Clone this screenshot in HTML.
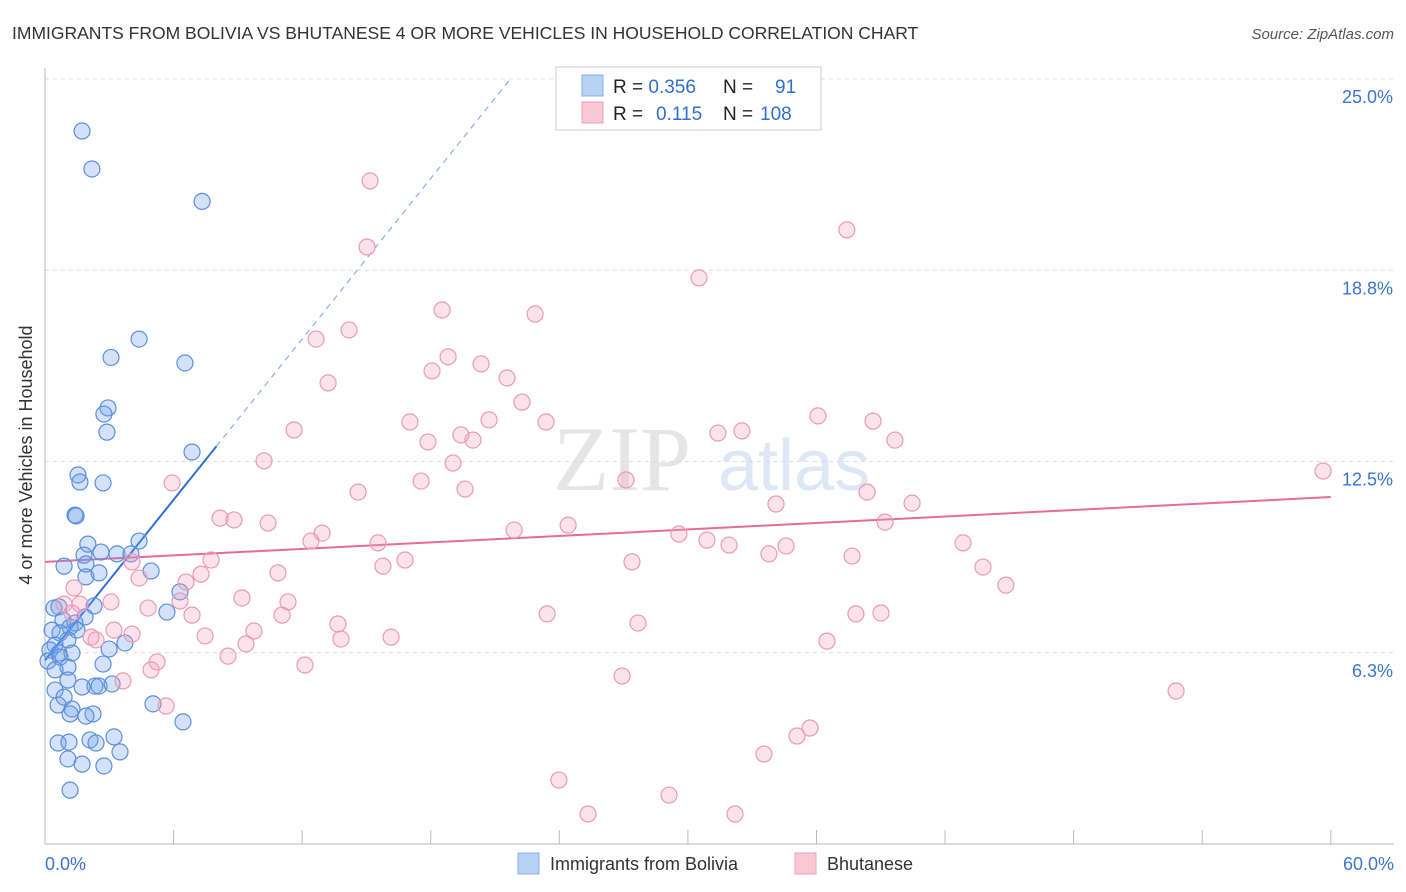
<!DOCTYPE html>
<html><head><meta charset="utf-8"><style>
body{margin:0;background:#fff;width:1406px;height:892px;overflow:hidden;font-family:"Liberation Sans",sans-serif}
svg{position:absolute;left:0;top:0}
</style></head><body>
<svg id="chart" width="1406" height="892">
<text x="12" y="39" font-size="17.5" fill="#333">IMMIGRANTS FROM BOLIVIA VS BHUTANESE 4 OR MORE VEHICLES IN HOUSEHOLD CORRELATION CHART</text>
<text x="1394" y="39" font-size="15" fill="#555" font-style="italic" text-anchor="end">Source: ZipAtlas.com</text>
<g opacity="0.25">
<text x="553" y="490" font-size="92" font-family="Liberation Serif,serif" fill="#999">ZIP</text>
<text x="718" y="490" font-size="72" fill="#7aa3d9">atlas</text>
</g>
<g id="grid"></g><g id="axes"></g><g id="trend"></g><g id="pts"></g>
<text x="32" y="455" font-size="18" fill="#333" text-anchor="middle" transform="rotate(-90 32 455)">4 or more Vehicles in Household</text>
<g>
<rect x="556" y="67" width="265" height="63" fill="#fff" stroke="#ccc"/>
<rect x="582" y="75" width="21" height="21" fill="#b8d2f5" stroke="#8ab0e8"/>
<rect x="582" y="102" width="21" height="21" fill="#f9c7d6" stroke="#f0a0ba"/>
<text x="613" y="93" font-size="19" fill="#222">R = <tspan fill="#2f6fd0">0.356</tspan><tspan x="723">N =</tspan><tspan x="775" fill="#2f6fd0">91</tspan></text>
<text x="613" y="120" font-size="19" fill="#222">R = <tspan x="656" fill="#2f6fd0">0.115</tspan><tspan x="723">N =</tspan><tspan x="760" fill="#2f6fd0">108</tspan></text>
</g>
<g>
<rect x="518" y="853" width="21" height="21" fill="#b8d2f5" stroke="#8ab0e8"/>
<text x="550" y="870" font-size="18" fill="#333">Immigrants from Bolivia</text>
<rect x="795" y="853" width="21" height="21" fill="#f9c7d6" stroke="#f0a0ba"/>
<text x="827" y="870" font-size="18" fill="#333">Bhutanese</text>
</g>
</svg>
<script>
const yTicks=[25,18.75,12.5,6.25];
const yTickLabels=["25.0%","18.8%","12.5%","6.3%"];
const xTicks=[0,6,12,18,24,30,36,42,48,54,60];
const boliviaX=[1.73,2.19,7.33,4.39,3.08,6.53,2.94,2.75,2.89,6.86,1.54,1.63,2.71,1.4,1.45,4.39,2.0,1.82,2.61,3.36,4.01,0.89,1.91,2.52,4.95,1.91,6.3,0.42,0.65,2.29,5.69,1.87,0.84,1.4,1.17,0.33,0.7,1.49,1.07,0.47,3.73,2.99,0.23,0.65,1.26,0.7,0.14,2.71,1.07,0.47,1.07,2.33,2.52,3.13,1.73,0.47,0.89,0.61,5.04,1.26,1.17,2.24,1.91,6.44,0.61,1.12,2.1,2.38,3.22,3.5,1.07,1.73,2.75,1.17];
const boliviaY=[23.3,22.06,21.0,16.5,15.9,15.72,14.25,14.05,13.46,12.81,12.06,11.83,11.8,10.75,10.72,9.9,9.8,9.44,9.54,9.48,9.48,9.08,9.15,8.86,8.92,8.73,8.24,7.71,7.75,7.78,7.58,7.42,7.32,7.22,7.09,6.99,6.9,6.99,6.67,6.5,6.57,6.37,6.34,6.24,6.24,6.11,5.98,5.88,5.78,5.69,5.36,5.16,5.16,5.23,5.13,5.03,4.8,4.54,4.58,4.41,4.25,4.25,4.18,3.99,3.3,3.33,3.4,3.3,3.5,3.01,2.78,2.61,2.55,1.76];
const bhutanX=[15.17,15.03,37.42,30.52,18.53,22.87,14.19,12.65,18.81,20.35,18.06,13.21,21.56,22.26,36.07,38.64,17.03,20.72,23.38,19.41,19.97,31.4,32.52,39.66,17.87,11.62,10.22,19.04,17.55,5.93,19.6,14.61,27.11,38.36,40.46,34.11,8.17,8.82,10.41,24.41,21.89,39.2,12.93,12.41,29.58,30.89,31.92,34.58,42.84,15.54,7.75,33.78,37.66,4.06,16.8,15.77,27.39,10.87,43.77,7.28,4.39,6.58,44.84,1.35,9.19,11.34,3.08,4.81,0.89,1.63,6.3,1.26,23.43,37.84,39.01,6.86,11.06,13.67,27.67,3.22,4.06,9.75,7.47,2.15,2.38,13.81,16.15,36.49,9.38,8.54,12.13,5.23,4.95,3.64,5.65,26.93,52.78,35.7,35.09,33.55,23.98,29.12,25.34,32.2,59.64];
const bhutanY=[21.67,19.51,20.07,18.5,17.45,17.32,16.8,16.5,15.92,15.69,15.46,15.07,15.23,14.44,13.99,13.82,13.79,13.86,13.79,13.37,13.2,13.43,13.5,13.2,13.14,13.53,12.52,12.45,11.86,11.8,11.6,11.5,11.9,11.5,11.14,11.11,10.65,10.59,10.49,10.42,10.26,10.52,10.16,9.9,10.13,9.93,9.77,9.74,9.84,9.84,9.28,9.48,9.41,9.22,9.28,9.08,9.22,8.86,9.05,8.82,8.69,8.56,8.46,8.37,8.04,7.91,7.91,7.71,7.84,7.84,7.94,7.55,7.52,7.52,7.55,7.48,7.48,7.19,7.22,6.99,6.86,6.96,6.8,6.76,6.67,6.7,6.76,6.63,6.54,6.14,5.85,5.95,5.69,5.33,4.51,5.49,5.0,3.79,3.53,2.94,2.09,1.6,0.98,0.98,12.19];
const boliviaTrend=[6.0,0.875];
const bhutanTrend=[9.22,0.0353];
const NS="http://www.w3.org/2000/svg";
const X=v=>45+v*21.43, Y=v=>844-v*30.6;
function mk(tag,attrs,parent){const e=document.createElementNS(NS,tag);for(const k in attrs)e.setAttribute(k,attrs[k]);document.getElementById(parent).appendChild(e);return e;}
yTicks.forEach((t,i)=>{
 const g=mk('line',{x1:45,x2:1394,y1:Y(t),y2:Y(t),stroke:'#ddd','stroke-dasharray':'4 4'},'grid');
 
 
 const l=mk('text',{x:1393,y:Y(t)+24,'font-size':18,fill:'#3b75d0','text-anchor':'end'},'axes');
 l.textContent=yTickLabels[i];
 
 
});
const ya=mk('line',{x1:45,x2:45,y1:68,y2:844,stroke:'#bbb'},'axes');


const xa=mk('line',{x1:45,x2:1394,y1:844,y2:844,stroke:'#bbb'},'axes');


xTicks.forEach(t=>{
 const k=mk('line',{x1:X(t),x2:X(t),y1:830,y2:844,stroke:'#bbb'},'axes');
 
 
});
[[0,"0.0%","start",45],[60,"60.0%","end",1394]].forEach(a=>{
 const l=mk('text',{x:a[3],y:870,'font-size':18,fill:'#3b75d0','text-anchor':a[2]},'axes');
 l.textContent=a[1];
 
 
});
function pts(xs,ys,fill,stroke,name){xs.forEach((x,i)=>{
 const c=mk('circle',{cx:X(x),cy:Y(ys[i]),r:8,fill:fill,stroke:stroke,'stroke-width':1.2},'pts');
 
 
});}
pts(boliviaX,boliviaY,'rgba(110,160,235,0.3)','#5b8fd9','point-bolivia');
pts(bhutanX,bhutanY,'rgba(245,160,190,0.3)','#e99bb6','point-bhutanese');
const bY=x=>boliviaTrend[0]+boliviaTrend[1]*x;
const xe=(25-boliviaTrend[0])/boliviaTrend[1];
const t1=mk('line',{x1:X(0),y1:Y(bY(0)),x2:X(8),y2:Y(bY(8)),stroke:'#2f6fd6','stroke-width':2},'trend');


const t2=mk('line',{x1:X(8),y1:Y(bY(8)),x2:X(xe),y2:Y(25),stroke:'#8ab0e8','stroke-width':1.2,'stroke-dasharray':'6 5'},'trend');


const pY=x=>bhutanTrend[0]+bhutanTrend[1]*x;
const t3=mk('line',{x1:X(0),y1:Y(pY(0)),x2:X(60),y2:Y(pY(60)),stroke:'#e86a96','stroke-width':2},'trend');


</script>
</body></html>
